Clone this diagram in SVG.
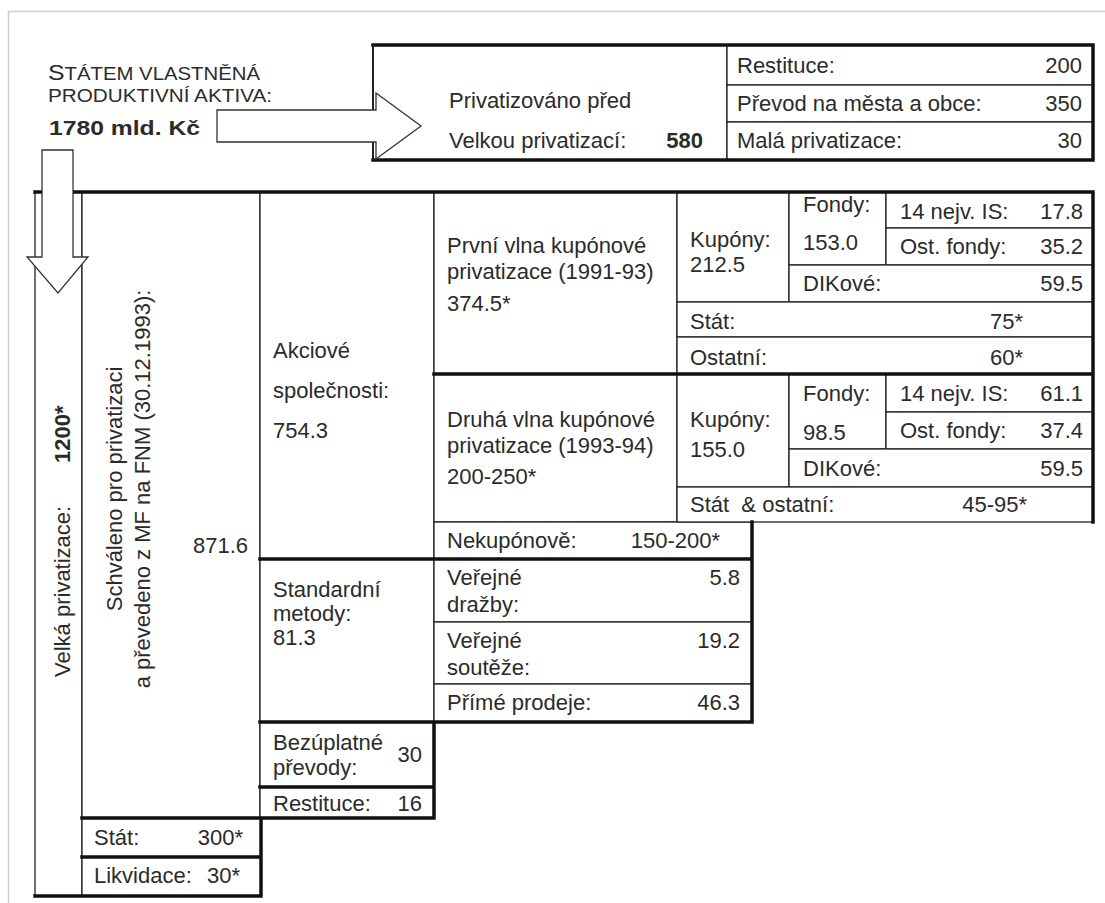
<svg xmlns="http://www.w3.org/2000/svg" width="1105" height="903" viewBox="0 0 1105 903">
<style>
text{font-family:"Liberation Sans",Arial,sans-serif;font-size:22px;fill:#2b2b2b}
.b{font-weight:bold}
.e{text-anchor:end}
.m{text-anchor:middle}
.c{fill:#fff;stroke:#222;stroke-width:1.3}
.k{fill:none;stroke:#111;stroke-width:3.5;stroke-linecap:square}
.ar{fill:#fff;stroke:#333;stroke-width:1.3;stroke-linejoin:miter}
.hd{font-size:18px}
</style>
<rect x="0" y="0" width="1105" height="903" fill="#fff"/>
<path d="M8.5,903 V11.5 H1105" fill="none" stroke="#cfcfcf" stroke-width="1.5"/>

<g id="header">
<text x="48" y="80" textLength="212" lengthAdjust="spacingAndGlyphs"><tspan style="font-size:22px">S</tspan><tspan class="hd">TÁTEM VLASTNĚNÁ</tspan></text>
<text x="48" y="102" class="hd" textLength="224" lengthAdjust="spacingAndGlyphs">PRODUKTIVNÍ AKTIVA:</text>
<text x="49" y="135" class="b" style="font-size:21px" textLength="151" lengthAdjust="spacingAndGlyphs">1780 mld. Kč</text>
</g>

<g id="n-privatizovano"><rect class="c" x="373" y="45" width="354" height="115"/>
<text x="449" y="108">Privatizováno před</text><text x="449" y="148">Velkou privatizací:</text><text x="703" y="148" class="b e">580</text></g>
<g id="n-restituce-top"><rect class="c" x="727" y="45" width="366" height="40"/><text x="737" y="73">Restituce:</text><text x="1082" y="73" class="e">200</text></g>
<g id="n-prevod"><rect class="c" x="727" y="85" width="366" height="37"/><text x="737" y="111">Převod na města a obce:</text><text x="1082" y="111" class="e">350</text></g>
<g id="n-mala"><rect class="c" x="727" y="122" width="366" height="38"/><text x="737" y="148">Malá privatizace:</text><text x="1082" y="148" class="e">30</text></g>

<g id="n-velka"><rect class="c" x="35" y="192" width="47" height="704"/>
<g transform="translate(70 677) rotate(-90)"><text x="0" y="0">Velká privatizace:</text><text x="214" y="0" class="b">1200*</text></g></g>
<g id="n-schvaleno"><rect class="c" x="82" y="192" width="178" height="626"/>
<g transform="translate(122 489) rotate(-90)"><text x="0" y="0" class="m">Schváleno pro privatizaci</text><text x="0" y="28" class="m">a převedeno z MF na FNM (30.12.1993):</text></g>
<text x="248" y="553" class="e">871.6</text></g>
<g id="n-stat300"><rect class="c" x="82" y="818" width="179" height="39"/><text x="94" y="845">Stát:</text><text x="243" y="845" class="e">300*</text></g>
<g id="n-likvidace"><rect class="c" x="82" y="857" width="179" height="39"/><text x="94" y="883">Likvidace:</text><text x="240" y="883" class="e">30*</text></g>

<g id="n-akciove"><rect class="c" x="260" y="192" width="174" height="367"/><text x="273" y="358">Akciové</text><text x="273" y="398">společnosti:</text><text x="273" y="438">754.3</text></g>
<g id="n-standardni"><rect class="c" x="260" y="559" width="174" height="163"/><text x="273" y="597">Standardní</text><text x="273" y="621">metody:</text><text x="273" y="645">81.3</text></g>
<g id="n-bezuplatne"><rect class="c" x="260" y="722" width="174" height="65"/><text x="273" y="750">Bezúplatné</text><text x="273" y="775">převody:</text><text x="422" y="762" class="e">30</text></g>
<g id="n-restituce16"><rect class="c" x="260" y="787" width="174" height="31"/><text x="273" y="811">Restituce:</text><text x="422" y="811" class="e">16</text></g>

<g id="n-prvni"><rect class="c" x="434" y="192" width="243" height="182"/><text x="447" y="253">První vlna kupónové</text><text x="447" y="279">privatizace (1991-93)</text><text x="447" y="311">374.5*</text></g>
<g id="n-druha"><rect class="c" x="434" y="374" width="243" height="148"/><text x="447" y="427">Druhá vlna kupónové</text><text x="447" y="453">privatizace (1993-94)</text><text x="447" y="484">200-250*</text></g>
<g id="n-nekuponove"><rect class="c" x="434" y="522" width="318" height="37"/><text x="447" y="548">Nekupónově:</text><text x="720" y="548" class="e">150-200*</text></g>
<g id="n-verejne-drazby"><rect class="c" x="434" y="559" width="318" height="63"/><text x="447" y="585">Veřejné</text><text x="447" y="612">dražby:</text><text x="740" y="585" class="e">5.8</text></g>
<g id="n-verejne-souteze"><rect class="c" x="434" y="622" width="318" height="62"/><text x="447" y="648">Veřejné</text><text x="447" y="675">soutěže:</text><text x="740" y="648" class="e">19.2</text></g>
<g id="n-prime"><rect class="c" x="434" y="684" width="318" height="38"/><text x="447" y="710">Přímé prodeje:</text><text x="740" y="710" class="e">46.3</text></g>

<g id="n-kupony1"><rect class="c" x="677" y="192" width="112" height="110"/><text x="690" y="247">Kupóny:</text><text x="690" y="272">212.5</text></g>
<g id="n-fondy1"><rect class="c" x="789" y="192" width="97" height="73"/><text x="803" y="212">Fondy:</text><text x="803" y="250">153.0</text></g>
<g id="n-nejv1"><rect class="c" x="886" y="192" width="207" height="36"/><text x="900" y="219">14 nejv. IS:</text><text x="1083" y="219" class="e">17.8</text></g>
<g id="n-ost1"><rect class="c" x="886" y="228" width="207" height="37"/><text x="900" y="254">Ost. fondy:</text><text x="1083" y="254" class="e">35.2</text></g>
<g id="n-dik1"><rect class="c" x="789" y="265" width="304" height="37"/><text x="803" y="291">DIKové:</text><text x="1083" y="291" class="e">59.5</text></g>
<g id="n-stat75"><rect class="c" x="677" y="302" width="416" height="35"/><text x="690" y="329">Stát:</text><text x="1023" y="329" class="e">75*</text></g>
<g id="n-ostatni60"><rect class="c" x="677" y="337" width="416" height="37"/><text x="690" y="365">Ostatní:</text><text x="1023" y="365" class="e">60*</text></g>

<g id="n-kupony2"><rect class="c" x="677" y="374" width="112" height="113"/><text x="690" y="427">Kupóny:</text><text x="690" y="457">155.0</text></g>
<g id="n-fondy2"><rect class="c" x="789" y="374" width="97" height="75"/><text x="803" y="401">Fondy:</text><text x="803" y="440">98.5</text></g>
<g id="n-nejv2"><rect class="c" x="886" y="374" width="207" height="38"/><text x="900" y="401">14 nejv. IS:</text><text x="1083" y="401" class="e">61.1</text></g>
<g id="n-ost2"><rect class="c" x="886" y="412" width="207" height="37"/><text x="900" y="438">Ost. fondy:</text><text x="1083" y="438" class="e">37.4</text></g>
<g id="n-dik2"><rect class="c" x="789" y="449" width="304" height="38"/><text x="803" y="476">DIKové:</text><text x="1083" y="476" class="e">59.5</text></g>
<g id="n-statost"><rect class="c" x="677" y="487" width="416" height="35"/><text x="690" y="512">Stát&#160; &amp; ostatní:</text><text x="1027" y="512" class="e">45-95*</text></g>

<g id="thick-borders">
<path class="k" d="M373,45 H1093 V160 H373 M35,192 H1093 V522 M434,374 H1093 M752,522 V722 M260,559 H752 M260,722 H752 M434,722 V818 M260,787 H434 M82,818 H434 M261,818 V896 M82,857 H261 M35,896 H261"/>
<path d="M373,45 V160" stroke="#222" stroke-width="2" fill="none"/>
</g>

<g id="connectors">
<polygon class="ar" points="217,110 376,110 376,93 421,126 376,159 376,142 217,142"/>
<polygon class="ar" points="42,150 73,150 73,257 88,257 58,293 27,257 42,257"/>
</g>
</svg>
